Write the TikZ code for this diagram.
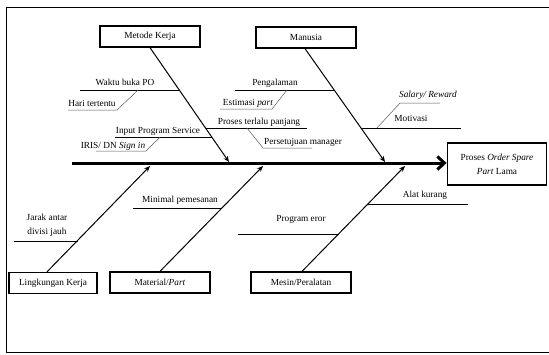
\documentclass[tikz,border=0pt]{standalone}
\usepackage{fontspec}
\setmainfont{Liberation Serif}
\usetikzlibrary{arrows.meta,calc}
\begin{document}
\begin{tikzpicture}[x=1pt,y=-1pt,
  every node/.style={font=\fontsize{9.3}{14}\selectfont, inner sep=0pt},
  cat/.style={draw, line width=1.3pt, minimum width=100pt, minimum height=21pt},
  effect/.style={draw, line width=1.8pt, minimum width=99pt, minimum height=42pt, align=center},
  spine/.style={line width=3pt, -{Straight Barb[length=7pt,width=13pt]}},
  bone/.style={line width=1pt, -{Stealth[length=6pt,width=5pt]}},
  branch/.style={line width=1pt},
  sub/.style={line width=0.5pt, draw=black!65},
  lbl/.style={anchor=base}
]
\useasboundingbox (0,0) rectangle (549,354);
% frame
\draw[line width=1pt] (549,7) -- (6,7) -- (6,352) -- (549,352);

% category boxes
\node[cat] (mk) at (150,36.5) {Metode Kerja};
\node[cat] (ma) at (306,37.5) {Manusia};
\node[cat, minimum width=88pt] (lk) at (53,283) {Lingkungan Kerja};
\node[cat] (mp) at (160,282.5) {Material/\textit{Part}};
\node[cat] (ms) at (301,282.5) {Mesin/Peralatan};
\node[effect] (ef) at (497,164) {Proses \textit{Order Spare}\\\textit{Part} Lama};

% spine
\coordinate (s0) at (72,163);
\draw[spine] (s0) -- (s0 -| ef.west);

% bones
\coordinate (t1) at (229,162);
\coordinate (t2) at (385,162);
\coordinate (t3) at (150,166);
\coordinate (t4) at (263,166);
\coordinate (t5) at (405,166);
\draw[bone] (mk.south) -- (t1);
\draw[bone] ([xshift=-1pt]ma.south) -- (t2);
\draw[bone] ([xshift=-6pt]lk.north) -- (t3);
\draw[bone] (mp.north) -- (t4);
\draw[bone] ([xshift=1pt]ms.north) -- (t5);

% branch points on bones
\coordinate (b1) at (179.5,90);
\coordinate (b2) at (211.8,137);
\coordinate (b3) at (205.6,128);
\coordinate (b4) at (334.5,90);
\coordinate (b5) at (361.2,128);
\coordinate (b6) at (77.5,241);
\coordinate (b7) at (222.2,208);
\coordinate (b8) at (339,234);
\coordinate (b9) at (368.1,204);

% branch free ends
\coordinate (e1) at (80,90);
\coordinate (e2) at (115,137);
\coordinate (e3) at (307,128);
\coordinate (e4) at (235,90);
\coordinate (e5) at (461,128);
\coordinate (e6) at (14,241);
\coordinate (e7) at (133,208);
\coordinate (e8) at (238,234);
\coordinate (e9) at (468,204);

\draw[branch] (b1) -- (e1);
\draw[branch] (b2) -- (e2);
\draw[branch] (b3) -- (e3);
\draw[branch] (b4) -- (e4);
\draw[branch] (b5) -- (e5);
\draw[branch] (b6) -- (e6);
\draw[branch] (b7) -- (e7);
\draw[branch] (b8) -- (e8);
\draw[branch] (b9) -- (e9);

% branch labels
\node[lbl] (l1) at (125,85) {Waktu buka PO};
\node[lbl] (l2) at (158,133) {Input Program Service};
\node[lbl] (l3) at (259,124) {Proses terlalu panjang};
\node[lbl] (l4) at (275,85) {Pengalaman};
\node[lbl] (l5) at (411,121) {Motivasi};
\node[align=center] (l6) at (47,225) {Jarak antar\\divisi jauh};
\node[lbl] (l7) at (180,202) {Minimal pemesanan};
\node[lbl] (l8) at (301,221) {Program eror};
\node[lbl] (l9) at (425,197) {Alat kurang};

% sub-branches
\coordinate (h1) at (68,110); \coordinate (h2) at (117,110); \coordinate (h3) at (138,90);
\draw[sub] (h1) -- (h2) -- (h3);
\node[lbl] (s1) at (92,106) {Hari tertentu};

\coordinate (i1) at (96,151); \coordinate (i2) at (146,151); \coordinate (i3) at (160,137);
\draw[sub] (i1) -- (i2) -- (i3);
\node[lbl] (s2) at (113,148) {IRIS/ DN \textit{Sign in}};

\coordinate (p1) at (220,109); \coordinate (p2) at (272,109); \coordinate (p3) at (287,90);
\draw[sub] (p1) -- (p2) -- (p3);
\node[lbl] (s3) at (248,105) {Estimasi \textit{part}};

\coordinate (q1) at (247,128); \coordinate (q2) at (263,148); \coordinate (q3) at (312,148);
\draw[sub] (q1) -- (q2) -- (q3);
\node[lbl] (s4) at (303,144) {Persetujuan manager};

\coordinate (r1) at (440,103); \coordinate (r2) at (400,103); \coordinate (r3) at (377,128);
\draw[sub] (r1) -- (r2) -- (r3);
\node[lbl] (s5) at (428,97) {\textit{Salary/ Reward}};
\end{tikzpicture}
\end{document}
